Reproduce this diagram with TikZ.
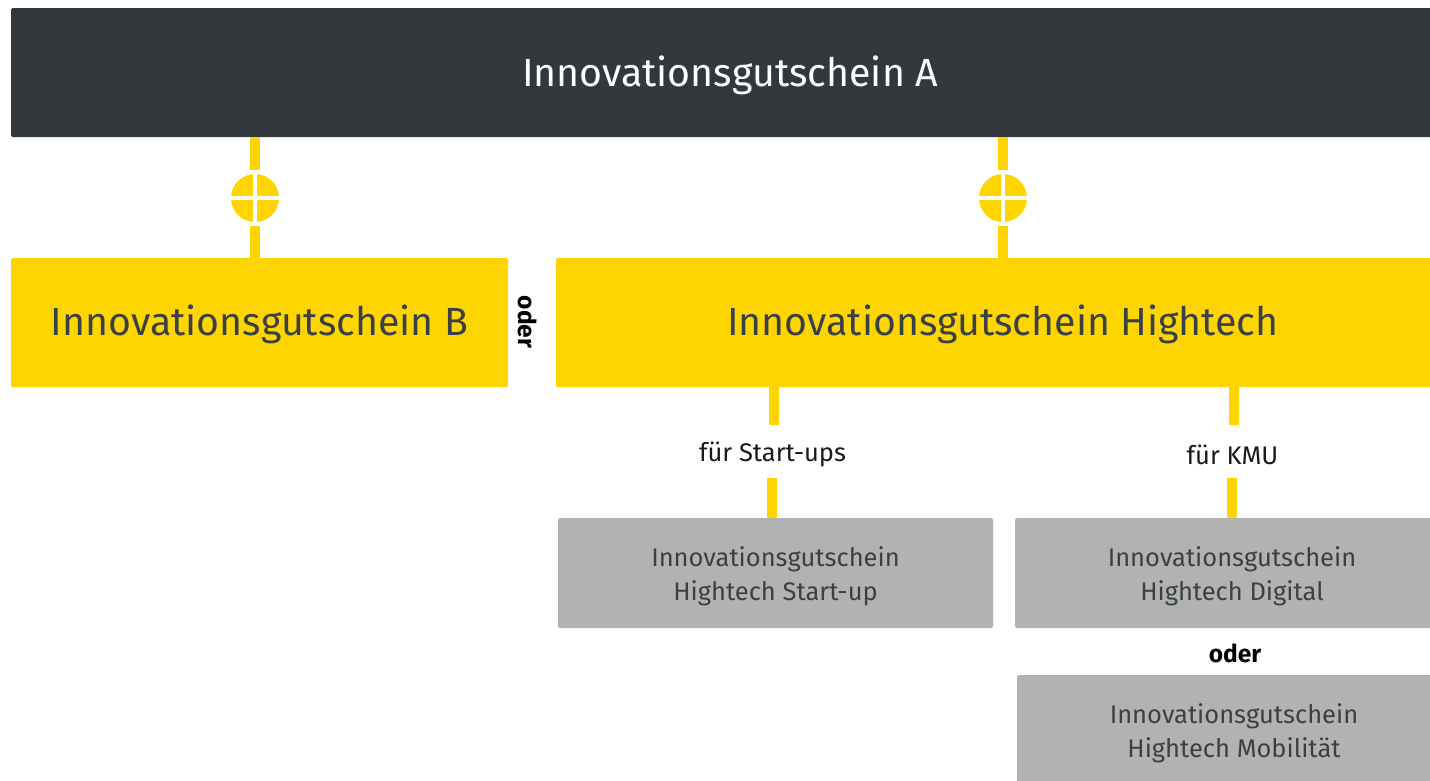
\documentclass[tikz,border=0pt]{standalone}
\usepackage{fontspec}
\setmainfont{Fira Sans}
\definecolor{darkbox}{HTML}{32383B}
\definecolor{ylw}{HTML}{FFD500}
\definecolor{gbox}{HTML}{B2B2B1}
\definecolor{gtext}{HTML}{3A4145}
\newcommand{\dn}[2]{\raisebox{-#1}[\height][\depth]{#2}}
\tikzset{
  topbox/.style={fill=darkbox, text=white, rounded corners=1.5pt, inner sep=0pt, font=\fontsize{39.3}{44}\selectfont},
  ybox/.style={fill=ylw, text=gtext, rounded corners=1.5pt, inner sep=0pt, font=\fontsize{39.3}{44}\selectfont},
  gbx/.style={fill=gbox, text=gtext, rounded corners=1.5pt, inner sep=0pt, align=center, font=\fontsize{25.5}{34}\selectfont},
  conn/.style={draw=ylw, line width=10pt},
  plusc/.style={circle, fill=ylw, minimum size=48pt, inner sep=0pt, outer sep=4pt},
  lbl/.style={inner sep=0pt, minimum height=53pt, text=black!90, font=\fontsize{25.5}{28}\selectfont},
  orlbl/.style={inner sep=0pt, text=black, font=\fontsize{24.5}{28}\selectfont\bfseries}
}
\begin{document}
\begin{tikzpicture}[x=1pt,y=-1pt]
\useasboundingbox (0,0) rectangle (1430,780);
\clip (0,0) rectangle (1430,780);
\node[topbox, minimum width=1438pt, minimum height=129pt] (A) at (730,72.5) {\dn{3pt}{Innovationsgutschein A}};
\node[ybox, minimum width=497pt, minimum height=129pt] (B) at (259.5,322.5) {\dn{2pt}{Innovationsgutschein B}};
\node[ybox, minimum width=894pt, minimum height=129pt] (H) at (1003,322.5) {\dn{2pt}{Innovationsgutschein Hightech}};
\node[orlbl, rotate=-90] (or1) at (527.5,322) {oder};
% plus circles
\node[plusc] (c1) at (255,198) {};
\node[plusc] (c2) at (1003,198) {};
\foreach \c in {c1,c2}{
  \draw[white, line width=3.5pt] (\c.west) -- (\c.east);
  \draw[white, line width=3.5pt] (\c.north) -- (\c.south);
}
\coordinate (a1) at (255,137);
\coordinate (b1) at (255,258);
\coordinate (a2) at (1003,137);
\coordinate (b2) at (1003,258);
\draw[conn] (a1) -- (c1);
\draw[conn] (c1) -- (b1);
\draw[conn] (a2) -- (c2);
\draw[conn] (c2) -- (b2);
% gray boxes
\node[gbx, minimum width=435pt, minimum height=110pt] (S) at (775.5,573) {\dn{3pt}{\shortstack{Innovationsgutschein\\[6pt]Hightech Start-up}}};
\node[gbx, minimum width=434pt, minimum height=110pt] (D) at (1232,573) {\dn{3pt}{\shortstack{Innovationsgutschein\\[6pt]Hightech Digital}}};
\node[gbx, minimum width=434pt, minimum height=110pt] (M) at (1234,730) {\dn{3pt}{\shortstack{Innovationsgutschein\\[6pt]Hightech Mobilität}}};
\node[orlbl] (or2) at (1235,653) {oder};
% labels
\node[lbl] (l1) at (772.5,451.5) {\dn{3pt}{für Start-ups}};
\node[lbl] (l2) at (1232.5,451.5) {\dn{3pt}{für KMU}};
\coordinate (h1) at (773.5,387);
\coordinate (h2) at (1234,387);
\coordinate (s1) at (771.5,518);
\coordinate (s2) at (1232,518);
\draw[conn] (h1) -- (h1 |- l1.north);
\draw[conn] (s1 |- l1.south) -- (s1);
\draw[conn] (h2) -- (h2 |- l2.north);
\draw[conn] (s2 |- l2.south) -- (s2);
\end{tikzpicture}
\end{document}
